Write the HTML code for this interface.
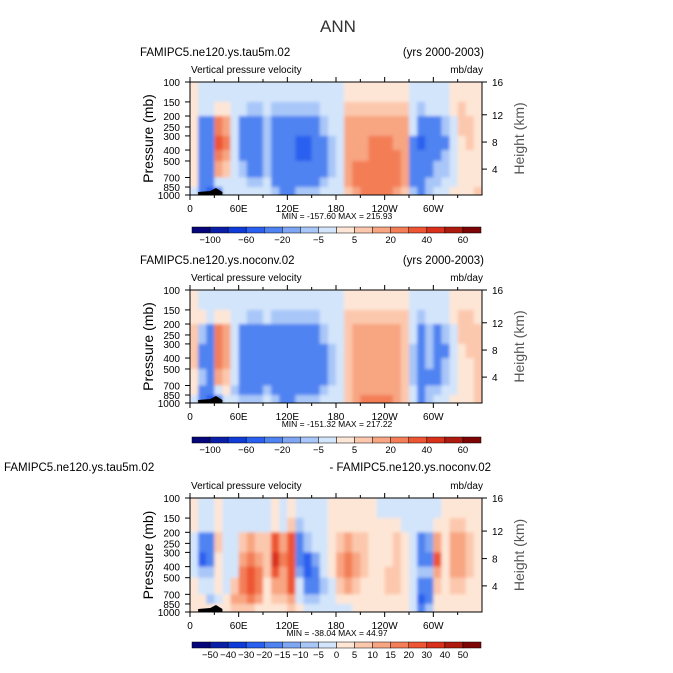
<!DOCTYPE html>
<html><head><meta charset="utf-8">
<style>
body{margin:0;background:#fff;}
svg{display:block;font-family:"Liberation Sans","DejaVu Sans",sans-serif;}
</style></head>
<body>
<svg id="chart" width="673" height="673" viewBox="0 0 673 673">
<defs><filter id="soft" x="-5%" y="-5%" width="110%" height="110%"><feGaussianBlur stdDeviation="1.6"/></filter></defs>
<text x="338" y="32" font-size="17" text-anchor="middle" fill="#333">ANN</text>
</svg>
<script>
// ---- data ----
const lons = [0,10,20,30,40,50,60,70,80,90,100,110,120,130,140,150,160,170,180,190,200,210,220,230,240,250,260,270,280,290,300,310,320,330,340,350];
const pressureEdges = [100,150,200,300,400,500,700,850,1000];
const pTicks = [100,150,200,250,300,400,500,700,850,1000];
const hTicks = [16,12,8,4];
const hTickP = [100,195,340,590];
const xTickLabels = ["0","60E","120E","180","120W","60W"];
const xTickLons = [0,60,120,180,240,300];
const levelsA = [-100,-80,-60,-40,-20,-10,-5,0,5,10,20,30,40,50,60];
const levelLabelsA = ["-100","-60","-20","-5","5","20","40","60"];
const levelsB = [-50,-40,-30,-20,-15,-10,-5,0,5,10,15,20,30,40,50];
const levelLabelsB = ["-50","-40","-30","-20","-15","-10","-5","0","5","10","15","20","30","40","50"];
const palette = ["#06067a","#0a1fa8","#0f3cd8","#2a60ef","#4f83f1","#7ea6f3","#a8c6f8","#d3e5fb","#fee6d6","#fcc8ad","#f8a582","#f37e57","#ee5532","#d8301a","#ad1a0e","#7d0505"];

const omega1 = [
[3,3,3,3,3,3,0,-5],[-3,-5,-30,-40,-40,-30,-30,-40],[-3,-5,-40,-40,-30,-30,-40,-60],[-3,3,20,30,20,10,-5,-30],
[-3,3,10,20,10,5,-5,-5],[-3,-3,-5,-5,-5,-5,-5,-5],[-3,-5,-30,-30,-30,-10,-5,-5],[-3,-10,-30,-40,-30,-30,-10,-5],
[-3,-10,-30,-30,-30,-30,-10,-5],[-3,-5,-10,-10,-10,-10,-5,-3],[-5,-10,-30,-30,-30,-30,-30,-10],[-5,-10,-40,-40,-40,-30,-30,-30],
[-5,-10,-40,-40,-40,-40,-30,-30],[-5,-10,-40,-50,-50,-40,-30,-10],[-5,-10,-40,-60,-60,-40,-30,-10],[-5,-10,-30,-40,-40,-30,-30,-10],
[-3,-5,-10,-30,-30,-30,-10,-5],[-3,-3,-5,-10,-10,-10,-5,-3],[-3,-3,-3,-3,-5,-5,-3,-3],[3,5,10,10,10,10,10,5],
[3,5,10,10,10,20,20,10],[3,5,10,10,10,20,20,20],[3,5,10,20,20,20,20,20],[3,5,10,20,20,20,20,20],
[3,5,10,20,20,20,20,20],[3,5,10,10,20,20,20,10],[3,5,10,10,10,10,10,5],[-3,-3,-5,-30,-40,-40,-30,-10],
[-3,-10,-40,-60,-40,-40,-30,-30],[-3,-5,-30,-30,-30,-30,-10,-10],[-3,-5,-30,-30,-30,-10,-10,-5],[-3,-3,-10,-30,-10,-10,-5,-5],
[3,3,-5,-5,-5,-3,-3,3],[3,5,5,3,3,3,3,3],[3,3,5,5,3,3,3,3],[3,3,3,3,3,3,3,5]];

const omega2 = [
[3,3,5,5,5,3,0,-5],[-3,3,-10,-30,-30,-10,-30,-40],[-3,-5,-30,-30,-30,-30,-40,-60],[-3,3,20,20,20,10,-5,-30],
[-3,3,10,10,10,5,3,-5],[-3,-3,-5,-5,-5,-5,-10,-5],[-3,-5,-30,-30,-30,-30,-30,-10],[-3,-10,-30,-40,-40,-30,-30,-10],
[-3,-10,-30,-30,-30,-30,-30,-10],[-3,-5,-30,-30,-30,-30,-10,-5],[-5,-10,-30,-30,-30,-30,-30,-10],[-5,-10,-30,-30,-30,-30,-30,-30],
[-5,-10,-30,-40,-40,-30,-30,-30],[-5,-10,-30,-30,-30,-30,-30,-10],[-5,-10,-30,-30,-30,-30,-30,-10],[-5,-10,-30,-30,-30,-30,-30,-10],
[-3,-5,-10,-30,-30,-30,-10,-5],[-3,-3,-5,-10,-10,-10,-5,-3],[-3,-3,-3,-3,-5,-5,-3,-3],[3,5,5,5,5,5,5,5],
[3,5,10,10,10,10,10,10],[3,5,10,10,10,10,10,20],[3,5,10,10,10,10,10,20],[3,5,10,10,10,10,10,20],
[3,5,10,10,10,10,10,20],[3,5,10,10,10,10,10,10],[3,5,5,5,5,5,5,5],[-3,-3,-5,-10,-10,-10,-5,-5],
[-3,-10,-30,-40,-30,-30,-30,-30],[-3,-5,-10,-10,-10,-30,-10,-10],[-3,-5,-30,-30,-30,-30,-10,-5],[-3,-3,-10,-30,-10,-10,-5,-5],
[3,3,-5,-5,-5,-3,-3,3],[3,5,5,3,3,3,3,3],[3,5,5,5,3,3,3,3],[3,3,5,5,5,5,5,5]];

const omegaDiff = [
[3,3,-3,-3,-3,3,3,3],[-3,-5,-20,-30,-10,-5,3,3],[-3,-5,-20,-20,-10,-5,-10,3],[3,3,5,3,3,3,-5,3],
[-3,-3,-3,-3,-3,-3,3,3],[-3,-3,-3,-3,-3,5,10,5],[-3,-5,5,10,15,15,10,5],[-3,-3,10,15,20,20,15,5],
[-3,-3,5,10,15,15,10,3],[-3,-3,5,5,5,3,3,3],[3,3,20,30,20,10,5,3],[-3,-3,10,15,10,10,5,3],
[3,5,20,20,20,20,10,5],[-3,-10,-20,-20,-15,-5,-3,3],[-3,-5,-10,-30,-30,-20,-10,-3],[-3,-3,-5,-15,-20,-20,-10,-3],
[-3,-3,-3,-5,-5,-10,-5,-3],[3,3,3,3,3,-3,-3,-3],[3,3,5,10,10,5,3,-3],[3,3,10,15,15,10,3,-3],
[3,3,5,10,10,5,3,3],[3,3,5,5,5,3,3,3],[3,3,3,3,3,3,3,3],[-3,3,3,3,3,3,3,3],
[-3,3,3,3,5,5,3,3],[-3,3,5,5,5,5,3,3],[-3,-3,3,3,3,3,3,3],[-3,-3,-3,-3,-3,-3,-3,-3],
[-3,-5,-20,-20,-10,-20,-30,-20],[-3,-5,-15,-20,-10,-20,-20,-10],[-3,3,10,20,10,5,3,3],[3,3,3,3,3,3,3,3],
[3,5,10,10,10,5,3,3],[3,5,10,10,10,5,3,3],[3,3,5,5,5,3,3,3],[3,3,3,3,3,3,3,3]];

const panels = [
 {name:"control",top:82,bottom:195,data:omega1,levels:levelsA,lvlLabels:levelLabelsA,cbTop:227,
  left:"FAMIPC5.ne120.ys.tau5m.02",leftX:140,right:"(yrs 2000-2003)",titleY:56,minmax:"MIN = -157.60   MAX = 215.93"},
 {name:"noconv",top:290,bottom:403,data:omega2,levels:levelsA,lvlLabels:levelLabelsA,cbTop:437,
  left:"FAMIPC5.ne120.ys.noconv.02",leftX:140,right:"(yrs 2000-2003)",titleY:264,minmax:"MIN = -151.32   MAX = 217.22"},
 {name:"difference",top:498,bottom:612,data:omegaDiff,levels:levelsB,lvlLabels:levelLabelsB,cbTop:642,
  left:"FAMIPC5.ne120.ys.tau5m.02",leftX:4,right:"- FAMIPC5.ne120.ys.noconv.02",titleY:471,minmax:"MIN = -38.04   MAX = 44.97"}
];

const svg = document.getElementById('chart');
const NS = "http://www.w3.org/2000/svg";
function mk(tag, attrs, parent){const e=document.createElementNS(NS,tag);for(const k in attrs)e.setAttribute(k,attrs[k]);(parent||svg).appendChild(e);return e;}
const X0=190, X1=482;
function xs(lon){return X0+(lon/360)*(X1-X0);}
function colorIdx(v,levels){let i=0;for(const b of levels){if(v>=b)i++;}return i;}

panels.forEach(function(P,pi){
  const g = mk('g',{});
  
  
  const ys = function(p){return P.top+(Math.log(p/100)/Math.log(10))*(P.bottom-P.top);};
  const defs = svg.querySelector('defs');
  const cp = mk('clipPath',{id:'clip'+pi},defs);
  mk('rect',{x:X0,y:P.top,width:X1-X0,height:P.bottom-P.top},cp);
  const clipG = mk('g',{'clip-path':'url(#clip'+pi+')'},g);
  const cells = mk('g',{filter:'url(#soft)'},clipG);
  
  
  P.data.forEach(function(col,ci){
    col.forEach(function(v,ri){
      let x=xs(lons[ci]), w=xs(ci+1<lons.length?lons[ci+1]:360)-x;
      let y=ys(pressureEdges[ri]), h=ys(pressureEdges[ri+1])-y;
      if(ci===0){x-=4;w+=4;} if(ci===lons.length-1){w+=4;}
      if(ri===0){y-=4;h+=4;} if(ri===col.length-1){h+=4;}
      const r=mk('rect',{x:x,y:y,width:w+0.4,height:h+0.4,fill:palette[colorIdx(v,P.levels)]},cells);
      
      
    });
  });
  const topo=mk('path',{d:`M${xs(10)},${P.bottom} L${xs(10)},${P.bottom-3} L${xs(25)},${P.bottom-4} L${xs(32)},${P.bottom-7} L${xs(36)},${P.bottom-5} L${xs(40)},${P.bottom-3} L${xs(40)},${P.bottom} Z`,fill:'#000'},g);
  
  
  const frame=mk('rect',{x:X0,y:P.top,width:X1-X0,height:P.bottom-P.top,fill:'none',stroke:'#000','stroke-width':1},g);
  
  
  pTicks.forEach(function(p){
    const y=ys(p);
    mk('line',{x1:X0-5,x2:X0,y1:y,y2:y,stroke:'#000'},g);
    const t=mk('text',{x:X0-10,y:y+4,'font-size':10,'text-anchor':'end',fill:'#000'},g);
    t.textContent=p;
    
    
  });
  hTicks.forEach(function(h,i){
    const y=ys(hTickP[i]);
    mk('line',{x1:X1,x2:X1+5,y1:y,y2:y,stroke:'#000'},g);
    const t=mk('text',{x:X1+10,y:y+4,'font-size':10,fill:'#000'},g);
    t.textContent=h;
    
    
  });
  xTickLabels.forEach(function(lab,i){
    const x=xs(xTickLons[i]);
    mk('line',{x1:x,x2:x,y1:P.bottom,y2:P.bottom+5,stroke:'#000'},g);
    mk('line',{x1:x,x2:x,y1:P.top,y2:P.top-5,stroke:'#000'},g);
    const t=mk('text',{x:x,y:P.bottom+17,'font-size':10,'text-anchor':'middle',fill:'#000'},g);
    t.textContent=lab;
    
    
  });
  for(let l=30;l<360;l+=60){const x=xs(l);mk('line',{x1:x,x2:x,y1:P.bottom,y2:P.bottom+3,stroke:'#000'},g);mk('line',{x1:x,x2:x,y1:P.top,y2:P.top-3,stroke:'#000'},g);}
  const yt=mk('text',{x:0,y:0,'font-size':14,'text-anchor':'middle',fill:'#000',transform:`translate(153,${(P.top+P.bottom)/2}) rotate(-90)`},g);
  yt.textContent='Pressure (mb)';
  
  
  const ht=mk('text',{x:0,y:0,'font-size':14,'text-anchor':'middle',fill:'#555',transform:`translate(524,${(P.top+P.bottom)/2}) rotate(-90)`},g);
  ht.textContent='Height (km)';
  
  
  const lt=mk('text',{x:P.leftX,y:P.titleY,'font-size':11.5,fill:'#000'},g);
  lt.textContent=P.left;
  
  
  const rt=mk('text',{x:P.name==='difference'?491:484,y:P.titleY,'font-size':11.5,'text-anchor':'end',fill:'#000'},g);
  rt.textContent=P.right;
  
  
  const st=mk('text',{x:191,y:P.top-9,'font-size':10,fill:'#000'},g);
  st.textContent='Vertical pressure velocity';
  
  
  const un=mk('text',{x:483,y:P.top-9,'font-size':10,'text-anchor':'end',fill:'#000'},g);
  un.textContent='mb/day';
  
  
  const mm=mk('text',{x:337,y:P.bottom+24,'font-size':8.5,'text-anchor':'middle',fill:'#000'},g);
  mm.textContent=P.minmax;
  
  
  const cb=mk('g',{},g);
  
  
  const cx0=192, cx1=481, bw=(cx1-cx0)/16;
  palette.forEach(function(c,i){
    const r=mk('rect',{x:cx0+i*bw,y:P.cbTop,width:bw,height:6,fill:c,stroke:'#000','stroke-width':0.5},cb);
    
    
  });
  const step = P.lvlLabels.length===8?2:1;
  P.lvlLabels.forEach(function(lab,i){
    const k = step===2 ? 1+2*i : 1+i;
    const t=mk('text',{x:cx0+k*bw,y:P.cbTop+16,'font-size':9.5,'text-anchor':'middle',fill:'#000'},cb);
    t.textContent=lab.replace('-','\u2212');
    
    
  });
});
</script>
</body></html>
